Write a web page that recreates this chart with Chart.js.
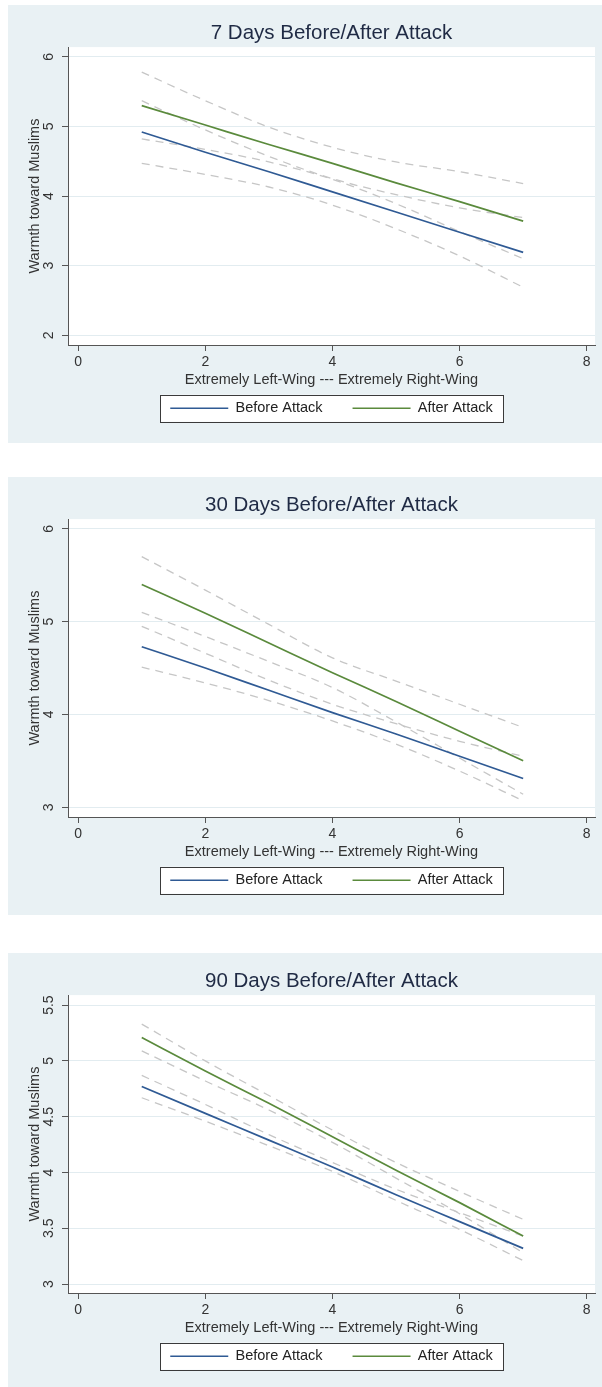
<!DOCTYPE html>
<html lang="en">
<head>
<meta charset="UTF-8">
<title>Warmth toward Muslims before/after attack</title>
<script src="https://cdn.jsdelivr.net/npm/chart.js"></script>
<style>
  body { margin: 0; background: #fff; overflow: hidden; }
  canvas { position: absolute; left: 8px; }
</style>
</head>
<body>
<canvas id="c7" width="594" height="438" style="top:5px"></canvas>
<canvas id="c30" width="594" height="438" style="top:477px"></canvas>
<canvas id="c90" width="594" height="438" style="top:953px"></canvas>

<script>
// left-right self placement (1 = extremely left, 7 = extremely right)
const scalePoints = [1, 2, 3, 4, 5, 6, 7];
const xTicks = [0, 2, 4, 6, 8];

// 7 days
const before7   = [4.92, 4.63, 4.35, 4.06, 3.77, 3.48, 3.19];
const before7Hi = [5.37, 4.95, 4.57, 4.25, 4.02, 3.83, 3.69];
const before7Lo = [4.47, 4.31, 4.13, 3.87, 3.53, 3.14, 2.69];
const after7    = [5.30, 5.02, 4.74, 4.47, 4.19, 3.92, 3.64];
const after7Hi  = [5.78, 5.37, 4.99, 4.70, 4.49, 4.35, 4.18];
const after7Lo  = [4.82, 4.67, 4.49, 4.24, 3.89, 3.49, 3.10];
const yTicks7 = [2, 3, 4, 5, 6];

// 30 days
const before30   = [4.73, 4.50, 4.26, 4.02, 3.79, 3.55, 3.31];
const before30Hi = [4.95, 4.66, 4.37, 4.11, 3.90, 3.71, 3.55];
const before30Lo = [4.51, 4.34, 4.15, 3.93, 3.68, 3.39, 3.07];
const after30    = [5.40, 5.09, 4.77, 4.45, 4.14, 3.82, 3.50];
const after30Hi  = [5.70, 5.34, 4.97, 4.61, 4.36, 4.11, 3.86];
const after30Lo  = [5.10, 4.84, 4.57, 4.29, 3.92, 3.53, 3.14];
const yTicks30 = [3, 4, 5, 6];

// 90 days
const before90   = [4.77, 4.53, 4.29, 4.05, 3.80, 3.56, 3.32];
const before90Hi = [4.87, 4.61, 4.34, 4.09, 3.85, 3.64, 3.43];
const before90Lo = [4.67, 4.46, 4.24, 4.01, 3.75, 3.49, 3.21];
const after90    = [5.21, 4.91, 4.62, 4.32, 4.02, 3.73, 3.43];
const after90Hi  = [5.33, 5.00, 4.69, 4.38, 4.09, 3.83, 3.58];
const after90Lo  = [5.09, 4.82, 4.56, 4.27, 3.95, 3.63, 3.28];
const yTicks90 = [3, 3.5, 4, 4.5, 5, 5.5];

const FONT = '"Liberation Sans", Arial, sans-serif';
const BLUE = '#2f5a94';
const GREEN = '#5a8a3c';
const CI = '#c6c6c6';
const AXIS = '#555';

Chart.defaults.font.family = FONT;

function line(label, vals, color, dashed) {
    return {
        label: label,
        data: scalePoints.map((x, i) => ({ x: x, y: vals[i] })),
        borderColor: color,
        backgroundColor: color,
        borderWidth: dashed ? 1.3 : 1.7,
        borderDash: dashed ? [8, 6] : [],
        pointRadius: 0,
        tension: 0.4,
        cubicInterpolationMode: 'monotone',
        fill: false
    };
}

// background, white plot region, legend frame, rotated y labels (Stata look)
const stataLook = {
    id: 'stataLook',
    beforeDraw(chart) {
        const { ctx, chartArea: a, width, height } = chart;
        ctx.save();
        ctx.fillStyle = '#e9f1f4';
        ctx.fillRect(0, 0, width, height);
        ctx.fillStyle = '#fff';
        ctx.fillRect(a.left, a.top, a.right - a.left, a.bottom - a.top);
        const lg = chart.legend;
        const cx = (lg.left + lg.right) / 2;
        const cy = lg.top + lg.options.labels.padding + 7.25;
        ctx.fillRect(cx - 171.5, cy - 13.5, 343, 27);
        ctx.strokeStyle = '#3a3a3a';
        ctx.lineWidth = 1;
        ctx.strokeRect(Math.round(cx - 171.5) + 0.5, Math.round(cy - 13.5) + 0.5, 343, 27);
        ctx.restore();
    },
    afterDraw(chart) {
        const { ctx } = chart;
        const y = chart.scales.y;
        ctx.save();
        ctx.font = '14px ' + FONT;
        ctx.fillStyle = '#333';
        ctx.textAlign = 'center';
        ctx.textBaseline = 'middle';
        y.ticks.forEach(t => {
            ctx.save();
            ctx.translate(y.right - 19, y.getPixelForValue(t.value));
            ctx.rotate(-Math.PI / 2);
            ctx.fillText(String(t.value), 0, 0);
            ctx.restore();
        });
        ctx.restore();
    }
};

function makePanel(id, title, yMin, yMax, yTicks, before, beforeHi, beforeLo, after, afterHi, afterLo) {
    new Chart(document.getElementById(id), {
        type: 'line',
        data: {
            datasets: [
                line('Before Attack', before, BLUE, false),
                line('After Attack', after, GREEN, false),
                line('Before upper', beforeHi, CI, true),
                line('Before lower', beforeLo, CI, true),
                line('After upper', afterHi, CI, true),
                line('After lower', afterLo, CI, true)
            ]
        },
        plugins: [stataLook],
        options: {
            responsive: false,
            animation: false,
            events: [],
            layout: { padding: { left: 0, right: 7, top: 0, bottom: 17.5 } },
            plugins: {
                title: {
                    display: true,
                    text: title,
                    fullSize: false,
                    color: '#1f2a44',
                    font: { size: 20.5, weight: 'normal' },
                    padding: { top: 16, bottom: 1.5 }
                },
                legend: {
                    position: 'bottom',
                    fullSize: false,
                    labels: {
                        usePointStyle: true,
                        pointStyle: 'line',
                        pointStyleWidth: 58,
                        padding: 30,
                        color: '#222',
                        font: { size: 14.5 },
                        filter: item => item.datasetIndex < 2
                    }
                },
                tooltip: { enabled: false }
            },
            scales: {
                x: {
                    type: 'linear',
                    min: -0.16,
                    max: 8.13,
                    afterBuildTicks: s => { s.ticks = xTicks.map(v => ({ value: v })); },
                    afterFit: s => { s.height = 26; },
                    ticks: { color: '#333', font: { size: 14 }, padding: 3 },
                    grid: { drawOnChartArea: false, tickColor: AXIS, tickLength: 6 },
                    border: { color: AXIS },
                    title: {
                        display: true,
                        text: 'Extremely Left-Wing --- Extremely Right-Wing',
                        color: '#333',
                        font: { size: 14.5 },
                        padding: { top: 0, bottom: -18 }
                    }
                },
                y: {
                    min: yMin,
                    max: yMax,
                    afterBuildTicks: s => { s.ticks = yTicks.map(v => ({ value: v })); },
                    afterFit: s => { s.width = 60; },
                    ticks: { display: false },
                    grid: { color: '#e2ecf0', tickColor: AXIS, tickLength: 6 },
                    border: { color: AXIS },
                    title: {
                        display: true,
                        text: 'Warmth toward Muslims',
                        color: '#333',
                        font: { size: 14.5 },
                        padding: { top: 18.3, bottom: 0 }
                    }
                }
            }
        }
    });
}

makePanel('c7', '7 Days Before/After Attack', 1.86, 6.14, yTicks7,
    before7, before7Hi, before7Lo, after7, after7Hi, after7Lo);
makePanel('c30', '30 Days Before/After Attack', 2.895, 6.105, yTicks30,
    before30, before30Hi, before30Lo, after30, after30Hi, after30Lo);
makePanel('c90', '90 Days Before/After Attack', 2.92, 5.59, yTicks90,
    before90, before90Hi, before90Lo, after90, after90Hi, after90Lo);
</script>
</body>
</html>
